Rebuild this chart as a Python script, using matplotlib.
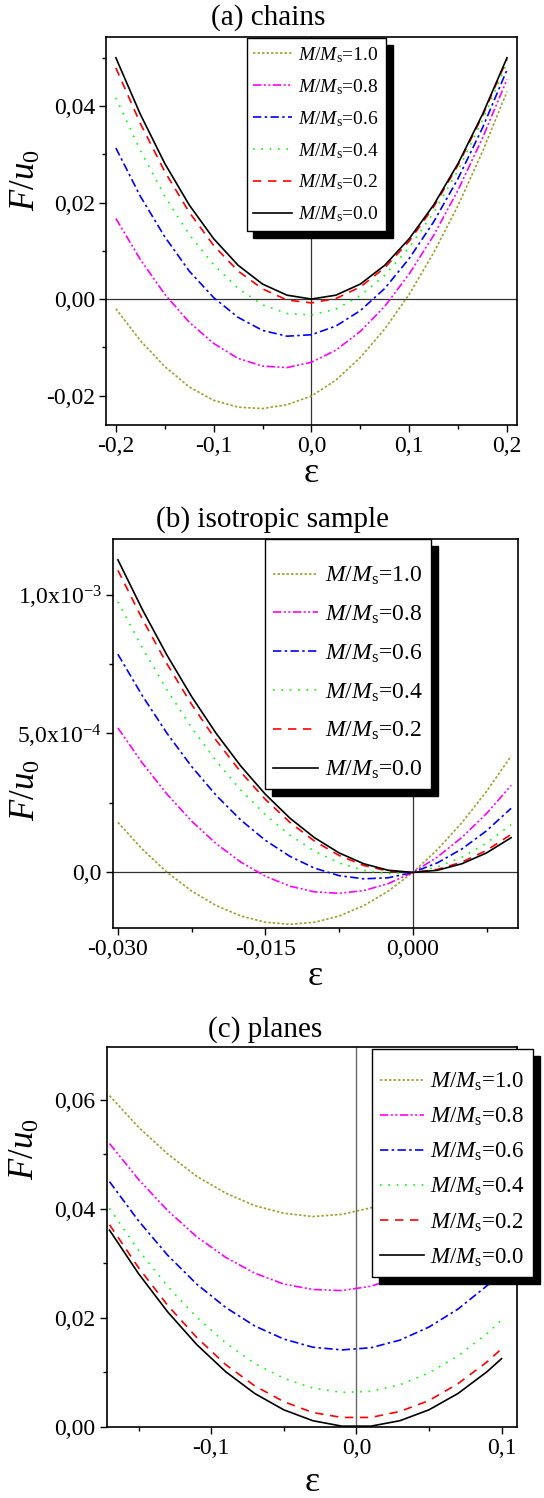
import matplotlib
matplotlib.use('Agg')
import matplotlib.pyplot as plt
from matplotlib.ticker import MultipleLocator, FuncFormatter, FixedLocator

plt.rcParams['font.family'] = ['Liberation Serif', 'DejaVu Serif']
plt.rcParams['mathtext.fontset'] = 'custom'
plt.rcParams['mathtext.rm'] = 'Liberation Serif'
plt.rcParams['mathtext.it'] = 'Liberation Serif:italic'
plt.rcParams['axes.unicode_minus'] = False

############################################################
# data

m_labels = ['1.0', '0.8', '0.6', '0.4', '0.2', '0.0']

# (a) chains
eps_a = [-0.2, -0.175, -0.15, -0.125, -0.1, -0.075, -0.05, -0.025, 0.0,
         0.025, 0.05, 0.075, 0.1, 0.125, 0.15, 0.175, 0.2]
fa_10 = [-0.0020, -0.0086, -0.0140, -0.0182, -0.0210, -0.0224, -0.0227, -0.0219, -0.0201,
         -0.0168, -0.0121, -0.0062, 0.0010, 0.0096, 0.0194, 0.0306, 0.0430]
fa_08 = [0.0167, 0.0082, 0.0010, -0.0048, -0.0092, -0.0123, -0.0139, -0.0142, -0.0131,
         -0.0106, -0.0067, -0.0015, 0.0052, 0.0132, 0.0226, 0.0334, 0.0455]
fa_06 = [0.0313, 0.0213, 0.0129, 0.0058, 0.0003, -0.0038, -0.0065, -0.0077, -0.0074,
         -0.0056, -0.0024, 0.0022, 0.0084, 0.0160, 0.0250, 0.0355, 0.0475]
fa_04 = [0.0417, 0.0308, 0.0213, 0.0134, 0.0071, 0.0022, -0.0012, -0.0030, -0.0033,
         -0.0021, 0.0007, 0.0049, 0.0107, 0.0179, 0.0267, 0.0371, 0.0489]
fa_02 = [0.0479, 0.0364, 0.0264, 0.0180, 0.0111, 0.0058, 0.0021, -0.0002, -0.0008,
         0.0001, 0.0025, 0.0065, 0.0120, 0.0191, 0.0278, 0.0380, 0.0497]
fa_00 = [0.0500, 0.0383, 0.0281, 0.0195, 0.0125, 0.0070, 0.0031, 0.0008, 0.0,
         0.0008, 0.0031, 0.0070, 0.0125, 0.0195, 0.0281, 0.0383, 0.0500]

# (b) isotropic sample, values in units of 1e-4
eps_b = [-0.03, -0.0275, -0.025, -0.0225, -0.02, -0.0175, -0.015, -0.0125, -0.01,
         -0.0075, -0.005, -0.0025, 0.0, 0.0025, 0.005, 0.0075, 0.01]
fb_10 = [1.803, 0.830, 0.006, -0.668, -1.192, -1.567, -1.792, -1.868, -1.793,
         -1.570, -1.196, -0.673, 0.0, 0.822, 1.794, 2.916, 4.187]
fb_08 = [5.199, 3.930, 2.813, 1.847, 1.034, 0.373, -0.137, -0.494, -0.699,
         -0.752, -0.654, -0.403, 0.0, 0.555, 1.262, 2.120, 3.131]
fb_06 = [7.851, 6.350, 5.004, 3.811, 2.772, 1.887, 1.156, 0.578, 0.155,
         -0.115, -0.230, -0.192, 0.0, 0.346, 0.846, 1.499, 2.307]
fb_04 = [9.740, 8.074, 6.564, 5.209, 4.010, 2.965, 2.076, 1.342, 0.763,
         0.340, 0.071, -0.042, 0.0, 0.197, 0.549, 1.057, 1.720]
fb_02 = [10.872, 9.108, 7.500, 6.048, 4.752, 3.612, 2.628, 1.800, 1.128,
         0.612, 0.252, 0.048, 0.0, 0.108, 0.372, 0.792, 1.368]
fb_00 = [11.250, 9.453, 7.813, 6.328, 5.000, 3.828, 2.813, 1.953, 1.250,
         0.703, 0.313, 0.078, 0.0, 0.078, 0.313, 0.703, 1.250]

# (c) planes
eps_c = [-0.17, -0.15, -0.13, -0.11, -0.09, -0.07, -0.05, -0.03, -0.01,
         0.01, 0.03, 0.05, 0.07, 0.09, 0.10]
fc_10 = [0.0608, 0.0550, 0.0501, 0.0460, 0.0429, 0.0406, 0.0392, 0.0386, 0.0390,
         0.0402, 0.0423, 0.0453, 0.0492, 0.0540, 0.0567]
fc_08 = [0.0520, 0.0454, 0.0397, 0.0349, 0.0311, 0.0282, 0.0262, 0.0252, 0.0250,
         0.0258, 0.0275, 0.0302, 0.0337, 0.0382, 0.0408]
fc_06 = [0.0450, 0.0378, 0.0315, 0.0262, 0.0219, 0.0185, 0.0161, 0.0146, 0.0141,
         0.0145, 0.0159, 0.0183, 0.0216, 0.0259, 0.0284]
fc_04 = [0.0401, 0.0324, 0.0258, 0.0201, 0.0154, 0.0116, 0.0089, 0.0071, 0.0063,
         0.0065, 0.0077, 0.0099, 0.0130, 0.0171, 0.0196]
fc_02 = [0.0371, 0.0292, 0.0223, 0.0164, 0.0114, 0.0075, 0.0046, 0.0026, 0.0017,
         0.0017, 0.0028, 0.0048, 0.0079, 0.0119, 0.0143]
fc_00 = [0.0361, 0.0281, 0.0211, 0.0151, 0.0101, 0.0061, 0.0031, 0.0011, 0.0001,
         0.0001, 0.0011, 0.0031, 0.0061, 0.0101, 0.0125]

############################################################

colors = ['#a0a030', '#ff00ff', '#0000ff', '#00ff00', '#ff0000', '#000000']
styles = [(0, (1.5, 1.2)),
          (0, (5, 1.5, 1.2, 1.5, 1.2, 1.5)),
          (0, (5, 2, 1.5, 2)),
          (0, (1, 4)),
          (0, (5, 4)),
          '-']


def comma(fmt):
    return FuncFormatter(lambda v, p: (fmt % v).replace('.', ','))


def style_axes(ax):
    ax.tick_params(which='both', direction='out', top=False, right=False,
                   labelsize=17, width=1)
    ax.tick_params(which='major', length=5, pad=3)
    ax.tick_params(which='minor', length=3)
    for s in ax.spines.values():
        s.set_linewidth(1.2)


def add_legend(ax, lines, x, y, size, hlen, spacing, top_gap=False):
    labels = [r'$M/M_{\mathrm{s}}$=' + m for m in m_labels]
    # a blank tiny title gives the extra room above the first entry
    extra = {'title': ' ', 'title_fontsize': 1} if top_gap else {}
    ax.legend(lines, labels, loc='upper left', bbox_to_anchor=(x, y),
              borderaxespad=0, fontsize=size, handlelength=hlen,
              handletextpad=0.3, labelspacing=spacing, borderpad=0.35,
              fancybox=False, framealpha=1, edgecolor='black',
              shadow={'ox': 5, 'oy': -5, 'facecolor': 'black',
                      'edgecolor': 'black', 'alpha': 1}, **extra)


fig = plt.figure(figsize=(5.44, 14.98), dpi=100)

"""
(a) chains
"""
ax1 = fig.add_axes([0.195, 0.7163, 0.755, 0.2590])
lines = []
for f, c, ls in zip([fa_10, fa_08, fa_06, fa_04, fa_02, fa_00], colors, styles):
    l, = ax1.plot(eps_a, f, color=c, linestyle=ls, lw=1.2)
    lines.append(l)
ax1.axhline(0, color='#333333', lw=0.9, zorder=0)
ax1.axvline(0, color='#333333', lw=0.9, zorder=0)
ax1.set_xlim(-0.21, 0.21)
ax1.set_ylim(-0.0261, 0.0543)
ax1.xaxis.set_major_locator(MultipleLocator(0.1))
ax1.xaxis.set_minor_locator(MultipleLocator(0.05))
ax1.yaxis.set_major_locator(MultipleLocator(0.02))
ax1.yaxis.set_minor_locator(MultipleLocator(0.01))
ax1.xaxis.set_major_formatter(comma('%.1f'))
ax1.yaxis.set_major_formatter(comma('%.2f'))
style_axes(ax1)
ax1.set_xlabel('ε', fontsize=26, labelpad=0)
ax1.set_ylabel(r'$F/u_0$', fontsize=25)
ax1.yaxis.set_label_coords(-0.155, 0.63)
add_legend(ax1, lines, 0.342, 0.997, 14, 2.0, 0.63)

"""
(b) isotropic sample
"""
ax2 = fig.add_axes([0.2077, 0.3805, 0.7445, 0.2597])
lines = []
for f, c, ls in zip([fb_10, fb_08, fb_06, fb_04, fb_02, fb_00], colors, styles):
    l, = ax2.plot(eps_b, [v * 1e-4 for v in f], color=c, linestyle=ls, lw=1.2)
    lines.append(l)
ax2.axhline(0, color='#333333', lw=0.9, zorder=0)
ax2.axvline(0, color='#333333', lw=0.9, zorder=0)
ax2.set_xlim(-0.0305, 0.0107)
ax2.set_ylim(-2.0e-4, 1.2e-3)
ax2.xaxis.set_major_locator(MultipleLocator(0.015))
ax2.xaxis.set_minor_locator(MultipleLocator(0.0075))
ax2.yaxis.set_major_locator(FixedLocator([0, 5e-4, 1e-3]))
ax2.yaxis.set_minor_locator(MultipleLocator(2.5e-4))
ax2.xaxis.set_major_formatter(comma('%.3f'))
ax2.set_yticklabels(['0,0', r'5,0x10$^{-4}$', r'1,0x10$^{-3}$'])
style_axes(ax2)
ax2.set_xlabel('ε', fontsize=26, labelpad=0)
ax2.set_ylabel(r'$F/u_0$', fontsize=25)
ax2.yaxis.set_label_coords(-0.172, 0.355)
add_legend(ax2, lines, 0.375, 1.0, 17, 1.9, 0.7, top_gap=True)

"""
(c) planes
"""
ax3 = fig.add_axes([0.196, 0.0476, 0.754, 0.2537])
lines = []
for f, c, ls in zip([fc_10, fc_08, fc_06, fc_04, fc_02, fc_00], colors, styles):
    l, = ax3.plot(eps_c, f, color=c, linestyle=ls, lw=1.2)
    lines.append(l)
ax3.axvline(0, color='#666666', lw=1.0, zorder=0)
ax3.set_xlim(-0.172, 0.1105)
ax3.set_ylim(0, 0.0698)
ax3.xaxis.set_major_locator(MultipleLocator(0.1))
ax3.xaxis.set_minor_locator(MultipleLocator(0.05))
ax3.yaxis.set_major_locator(MultipleLocator(0.02))
ax3.yaxis.set_minor_locator(MultipleLocator(0.01))
ax3.xaxis.set_major_formatter(comma('%.1f'))
ax3.yaxis.set_major_formatter(comma('%.2f'))
style_axes(ax3)
ax3.set_xlabel('ε', fontsize=26, labelpad=5)
ax3.set_ylabel(r'$F/u_0$', fontsize=25)
ax3.yaxis.set_label_coords(-0.158, 0.73)
add_legend(ax3, lines, 0.647, 0.994, 16.5, 1.9, 0.56, top_gap=True)

# titles sit over the figure centre, not the axes
fig.text(0.493, 0.988, '(a) chains', fontsize=21, ha='center', va='center')
fig.text(0.5, 0.653, '(b) isotropic sample', fontsize=21, ha='center', va='center')
fig.text(0.487, 0.313, '(c) planes', fontsize=21, ha='center', va='center')

fig.savefig('out.png', dpi=100)
